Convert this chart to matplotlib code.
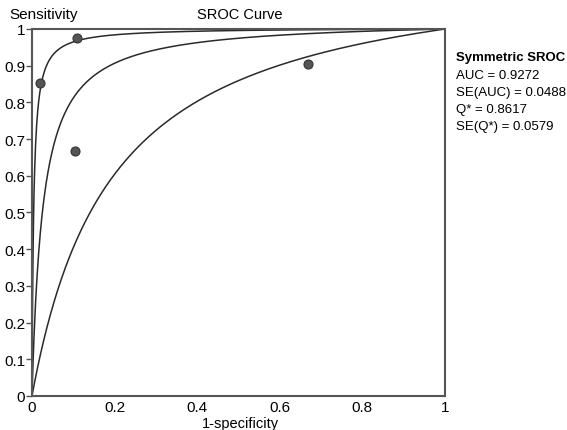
import numpy as np
import matplotlib.pyplot as plt

plt.rcParams['font.family'] = ['Liberation Sans', 'DejaVu Sans']

# study points (1-specificity, sensitivity)
fpr_pts = [0.019, 0.11, 0.104, 0.668]
tpr_pts = [0.853, 0.975, 0.668, 0.905]

# symmetric SROC intercepts (lower, fitted, upper)
intercepts = [1.81, 3.66, 5.51]

stats_lines = ["AUC = 0.9272", "SE(AUC) = 0.0488", "Q* = 0.8617", "SE(Q*) = 0.0579"]

x_ticks = [0, 0.2, 0.4, 0.6, 0.8, 1]
x_labels = ["0", "0.2", "0.4", "0.6", "0.8", "1"]
y_ticks = [0, 0.1, 0.2, 0.3, 0.4, 0.5, 0.6, 0.7, 0.8, 0.9, 1]
y_labels = ["0", "0.1", "0.2", "0.3", "0.4", "0.5", "0.6", "0.7", "0.8", "0.9", "1"]

fig = plt.figure(figsize=(5.67, 4.31), dpi=100)
ax = fig.add_axes([0.0564, 0.0789, 0.7285, 0.8515])

fpr = np.linspace(1e-5, 1, 800)
for a in intercepts:
    tpr = 1.0 / (1.0 + (1 - fpr) / fpr * np.exp(-a))
    ax.plot(np.r_[0, fpr], np.r_[0, tpr], color='#2a2a2a', linewidth=1.1)

ax.scatter(fpr_pts, tpr_pts, s=42, color='#555555', edgecolor='#333333',
           linewidth=0.8, zorder=5)

ax.set_xlim(0, 1)
ax.set_ylim(0, 1)
ax.set_xticks(x_ticks)
ax.set_xticklabels(x_labels)
ax.set_yticks(y_ticks)
ax.set_yticklabels(y_labels)
ax.tick_params(axis='x', length=0, pad=3, labelsize=11)
ax.tick_params(axis='y', length=4, width=1, color='#555555', pad=1, labelsize=11)
for sp in ax.spines.values():
    sp.set_color('#555555')
    sp.set_linewidth(1.5)

fig.text(9 / 567, 1 - 15 / 431, "Sensitivity", fontsize=11, va='center', ha='left')
fig.text(240 / 567, 1 - 15 / 431, "SROC Curve", fontsize=10.5, va='center', ha='center')
fig.text(240 / 567, 1 - 424 / 431, "1-specificity", fontsize=10.5, va='center', ha='center')

fig.text(456 / 567, 1 - 58 / 431, "Symmetric SROC", fontsize=9.5, fontweight='bold',
         va='center', ha='left')
for i, s in enumerate(stats_lines):
    fig.text(456 / 567, 1 - (76 + 17 * i) / 431, s, fontsize=9.5, va='center', ha='left')

fig.savefig("out.png", dpi=100)
